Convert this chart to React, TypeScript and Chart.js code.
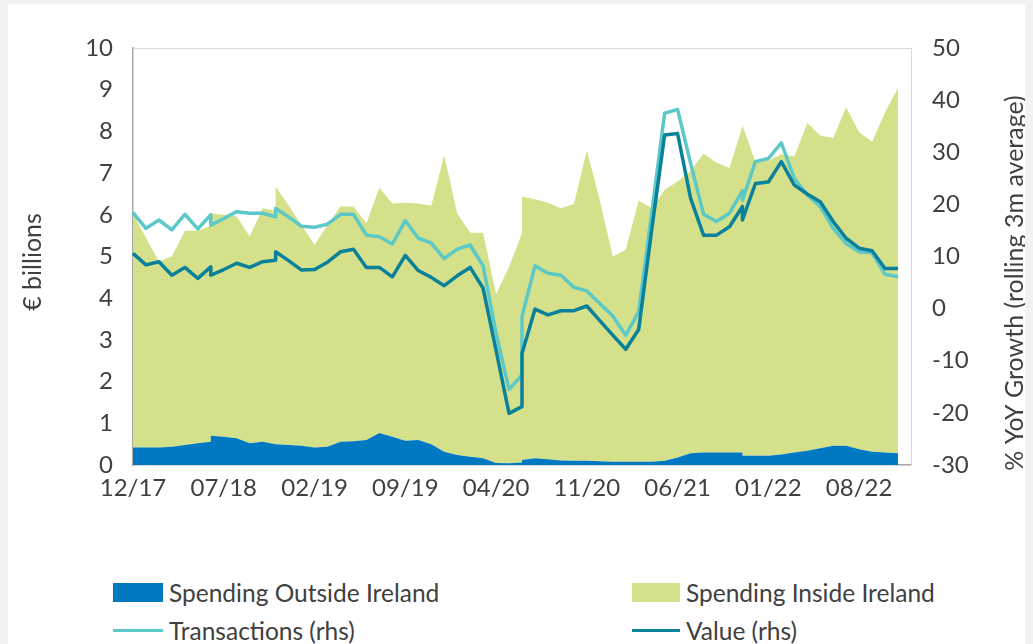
import React, { useEffect, useRef } from "react";
import { Chart, registerables } from "chart.js";

Chart.register(...registerables);

// Axis categories (one per month, Dec 2017 .. Dec 2022)
const monthLabels = [
  "12/17",
  "01/18", "02/18", "03/18", "04/18", "05/18", "06/18", "07/18", "08/18", "09/18", "10/18", "11/18", "12/18",
  "01/19", "02/19", "03/19", "04/19", "05/19", "06/19", "07/19", "08/19", "09/19", "10/19", "11/19", "12/19",
  "01/20", "02/20", "03/20", "04/20", "05/20", "06/20", "07/20", "08/20", "09/20", "10/20", "11/20", "12/20",
  "01/21", "02/21", "03/21", "04/21", "05/21", "06/21", "07/21", "08/21", "09/21", "10/21", "11/21", "12/21",
  "01/22", "02/22", "03/22", "04/22", "05/22", "06/22", "07/22", "08/22", "09/22", "10/22", "11/22", "12/22",
];

// Month of each observation (a few months carry two observations)
const pointMonths = [
  "12/17", "01/18", "02/18", "03/18", "04/18", "05/18", "06/18", "06/18", "07/18", "08/18",
  "09/18", "10/18", "11/18", "11/18", "12/18", "01/19", "02/19", "03/19", "04/19", "05/19",
  "06/19", "07/19", "08/19", "09/19", "10/19", "11/19", "12/19", "01/20", "02/20", "03/20",
  "04/20", "05/20", "06/20", "06/20", "07/20", "08/20", "09/20", "10/20", "11/20", "12/20",
  "01/21", "02/21", "03/21", "04/21", "05/21", "06/21", "07/21", "08/21", "09/21", "10/21",
  "11/21", "11/21", "12/21", "01/22", "02/22", "03/22", "04/22", "05/22", "06/22", "07/22",
  "08/22", "09/22", "10/22", "11/22",
];

// € billions
const spendingOutsideIreland = [
  0.42, 0.42, 0.42, 0.44, 0.48, 0.52, 0.56, 0.70, 0.68, 0.64,
  0.52, 0.56, 0.50, 0.50, 0.48, 0.46, 0.42, 0.44, 0.56, 0.57,
  0.60, 0.77, 0.68, 0.58, 0.60, 0.50, 0.32, 0.24, 0.20, 0.16,
  0.05, 0.04, 0.06, 0.12, 0.16, 0.14, 0.11, 0.10, 0.10, 0.09,
  0.08, 0.08, 0.08, 0.08, 0.10, 0.18, 0.28, 0.30, 0.30, 0.30,
  0.30, 0.22, 0.22, 0.22, 0.25, 0.30, 0.34, 0.40, 0.46, 0.46,
  0.38, 0.32, 0.30, 0.28,
];

const spendingInsideIreland = [
  5.62, 5.03, 4.46, 4.56, 5.14, 5.10, 5.04, 5.34, 5.32, 5.32,
  4.96, 5.60, 5.60, 6.17, 5.75, 5.29, 4.86, 5.31, 5.64, 5.63,
  5.20, 5.88, 5.59, 5.71, 5.67, 5.72, 7.11, 5.80, 5.37, 5.41,
  4.05, 4.71, 5.44, 6.31, 6.21, 6.15, 6.05, 6.16, 7.45, 6.26,
  4.92, 5.08, 6.26, 6.08, 6.50, 6.62, 6.77, 7.17, 6.95, 6.82,
  7.90, 7.93, 7.05, 7.08, 7.20, 7.10, 7.86, 7.50, 7.38, 8.12,
  7.60, 7.43, 8.16, 8.77,
];

// % YoY growth (rolling 3m average)
const transactionsGrowth = [
  18.4, 15.4, 17.0, 15.1, 18.1, 15.3, 18.0, 16.0, 17.3, 18.6,
  18.3, 18.3, 17.6, 19.2, 17.6, 15.8, 15.6, 16.2, 18.1, 18.1,
  14.1, 13.8, 12.4, 16.9, 13.5, 12.6, 9.6, 11.4, 12.2, 8.2,
  -4.7, -15.5, -12.7, -1.5, 8.2, 6.8, 6.4, 4.1, 3.4, 1.0,
  -1.4, -5.1, -0.6, 18.3, 37.5, 38.2, 27.9, 18.1, 16.7, 18.3,
  22.6, 20.8, 28.2, 28.8, 31.8, 25.0, 21.8, 19.6, 15.4, 12.5,
  10.9, 10.7, 6.6, 6.1,
];

const valueGrowth = [
  10.6, 8.4, 9.0, 6.4, 7.9, 5.8, 8.0, 6.4, 7.5, 8.7,
  7.9, 9.0, 9.3, 10.9, 9.2, 7.4, 7.5, 8.9, 10.9, 11.4,
  7.9, 7.9, 6.1, 10.2, 7.3, 6.0, 4.4, 6.3, 7.9, 3.9,
  -8.0, -20.1, -18.8, -8.6, -0.1, -1.2, -0.4, -0.4, 0.5, -2.3,
  -5.1, -7.8, -4.0, 15.1, 33.3, 33.6, 21.2, 14.1, 14.1, 15.7,
  19.6, 17.0, 24.0, 24.3, 28.2, 23.7, 22.0, 20.5, 16.7, 13.5,
  11.6, 11.1, 7.7, 7.7,
];

const seriesNames = {
  outside: "Spending Outside Ireland",
  inside: "Spending Inside Ireland",
  transactions: "Transactions (rhs)",
  value: "Value (rhs)",
};
const leftAxisTitle = "€ billions";
const rightAxisTitle = "% YoY Growth (rolling 3m average)";

const FONT = "Lato, 'Open Sans', sans-serif";
const TICK_SIZE = 24;
const TITLE_SIZE = 25;
const LEGEND_SIZE = 24.5;
const TEXT = "#404040";
const COLORS = {
  outside: "#0079C2",
  inside: "#D4E18A",
  transactions: "#5CC8C8",
  value: "#0A819B",
};

const toPoints = (vals: number[]) => pointMonths.map((m, i) => ({ x: m, y: vals[i] }));

const extras = {
  id: "extras",
  beforeDatasetsDraw(chart: any) {
    const { ctx, chartArea } = chart;
    ctx.save();
    ctx.strokeStyle = "#D9D9D9";
    ctx.lineWidth = 1;
    ctx.beginPath();
    ctx.moveTo(chartArea.left, chartArea.top + 0.5);
    ctx.lineTo(chartArea.right, chartArea.top + 0.5);
    ctx.stroke();
    ctx.restore();
  },
  afterDraw(chart: any) {
    const { ctx } = chart;
    const drawTitle = (text: string, x: number, y: number) => {
      ctx.save();
      ctx.fillStyle = TEXT;
      ctx.font = `${TITLE_SIZE}px ${FONT}`;
      ctx.textAlign = "center";
      ctx.textBaseline = "middle";
      ctx.translate(x, y);
      ctx.rotate(-Math.PI / 2);
      ctx.fillText(text, 0, 0);
      ctx.restore();
    };
    drawTitle(leftAxisTitle, 25, 258);
    drawTitle(rightAxisTitle, 1007, 279);
  },
};

const legendItems = [
  { label: seriesNames.outside, color: COLORS.outside, kind: "box", w: 50 },
  { label: seriesNames.inside, color: COLORS.inside, kind: "box", w: 48 },
  { label: seriesNames.transactions, color: COLORS.transactions, kind: "line", w: 50 },
  { label: seriesNames.value, color: COLORS.value, kind: "line", w: 48 },
];

export default function App() {
  const canvasRef = useRef<HTMLCanvasElement | null>(null);

  useEffect(() => {
    document.body.style.margin = "0";
    const canvas = canvasRef.current;
    if (!canvas) return;
    const tickFont = { family: FONT, size: TICK_SIZE };
    const chart = new Chart(canvas, {
      type: "line",
      data: {
        labels: monthLabels,
        datasets: [
          {
            label: seriesNames.value,
            data: toPoints(valueGrowth),
            yAxisID: "y1",
            borderColor: COLORS.value,
            borderWidth: 3.5,
            pointRadius: 0,
            fill: false,
            tension: 0,
            borderJoinStyle: "round",
          },
          {
            label: seriesNames.transactions,
            data: toPoints(transactionsGrowth),
            yAxisID: "y1",
            borderColor: COLORS.transactions,
            borderWidth: 3.5,
            pointRadius: 0,
            fill: false,
            tension: 0,
            borderJoinStyle: "round",
          },
          {
            label: seriesNames.outside,
            data: toPoints(spendingOutsideIreland),
            yAxisID: "y",
            borderWidth: 0,
            borderColor: COLORS.outside,
            backgroundColor: COLORS.outside,
            pointRadius: 0,
            fill: "origin",
            tension: 0,
          },
          {
            label: seriesNames.inside,
            data: toPoints(spendingInsideIreland),
            yAxisID: "y",
            borderWidth: 0,
            borderColor: COLORS.inside,
            backgroundColor: COLORS.inside,
            pointRadius: 0,
            fill: "-1",
            tension: 0,
          },
        ],
      },
      options: {
        animation: false,
        responsive: false,
        maintainAspectRatio: false,
        layout: { padding: { top: 44, left: 0, right: 0, bottom: 0 } },
        plugins: {
          legend: { display: false },
          tooltip: { enabled: false },
        },
        scales: {
          x: {
            type: "category",
            offset: false,
            grid: { display: false, drawTicks: false },
            border: { display: true, color: "#A6A6A6", width: 1.5 },
            ticks: {
              autoSkip: false,
              maxRotation: 0,
              minRotation: 0,
              padding: 9,
              color: TEXT,
              font: tickFont,
              callback: (_v: any, idx: number) => (idx % 7 === 0 ? monthLabels[idx] : ""),
            },
            afterFit: (s: any) => {
              s.height = 69;
            },
          },
          y: {
            position: "left",
            stacked: true,
            min: 0,
            max: 10,
            grid: { display: false, drawTicks: false },
            border: { display: true, color: "#A6A6A6", width: 1.5 },
            ticks: { stepSize: 1, padding: 20, color: TEXT, font: tickFont },
            afterFit: (s: any) => {
              s.width = 125;
            },
          },
          y1: {
            position: "right",
            min: -30,
            max: 50,
            grid: { display: false, drawTicks: false },
            border: { display: true, color: "#D9D9D9", width: 1 },
            ticks: { stepSize: 10, padding: 21, color: TEXT, font: tickFont },
            afterFit: (s: any) => {
              s.width = 114;
            },
          },
        },
      },
      plugins: [extras],
    });
    return () => chart.destroy();
  }, []);

  return (
    <div
      style={{
        position: "fixed",
        left: 0,
        top: 0,
        width: 1033,
        height: 644,
        background: "#F2F2F2",
        overflow: "hidden",
      }}
    >
      <div
        style={{
          position: "absolute",
          left: 8,
          top: 4,
          width: 1017,
          height: 640,
          background: "#FFFFFF",
        }}
      >
        <canvas
          ref={canvasRef}
          width={1017}
          height={530}
          style={{ position: "absolute", left: 0, top: 0, width: 1017, height: 530 }}
        />
        <div
          style={{
            position: "absolute",
            left: 105,
            top: 569,
            display: "grid",
            gridTemplateColumns: "519px 380px",
            gridAutoRows: "38px",
            fontFamily: FONT,
            fontSize: LEGEND_SIZE,
            color: TEXT,
          }}
        >
          {legendItems.map((it) => (
            <div key={it.label} style={{ display: "flex", alignItems: "center", height: 38 }}>
              <div
                style={{
                  width: it.w,
                  height: it.kind === "box" ? 19 : 3,
                  background: it.color,
                  marginRight: 6,
                  flex: "0 0 auto",
                }}
              />
              <span style={{ whiteSpace: "nowrap" }}>{it.label}</span>
            </div>
          ))}
        </div>
      </div>
    </div>
  );
}
